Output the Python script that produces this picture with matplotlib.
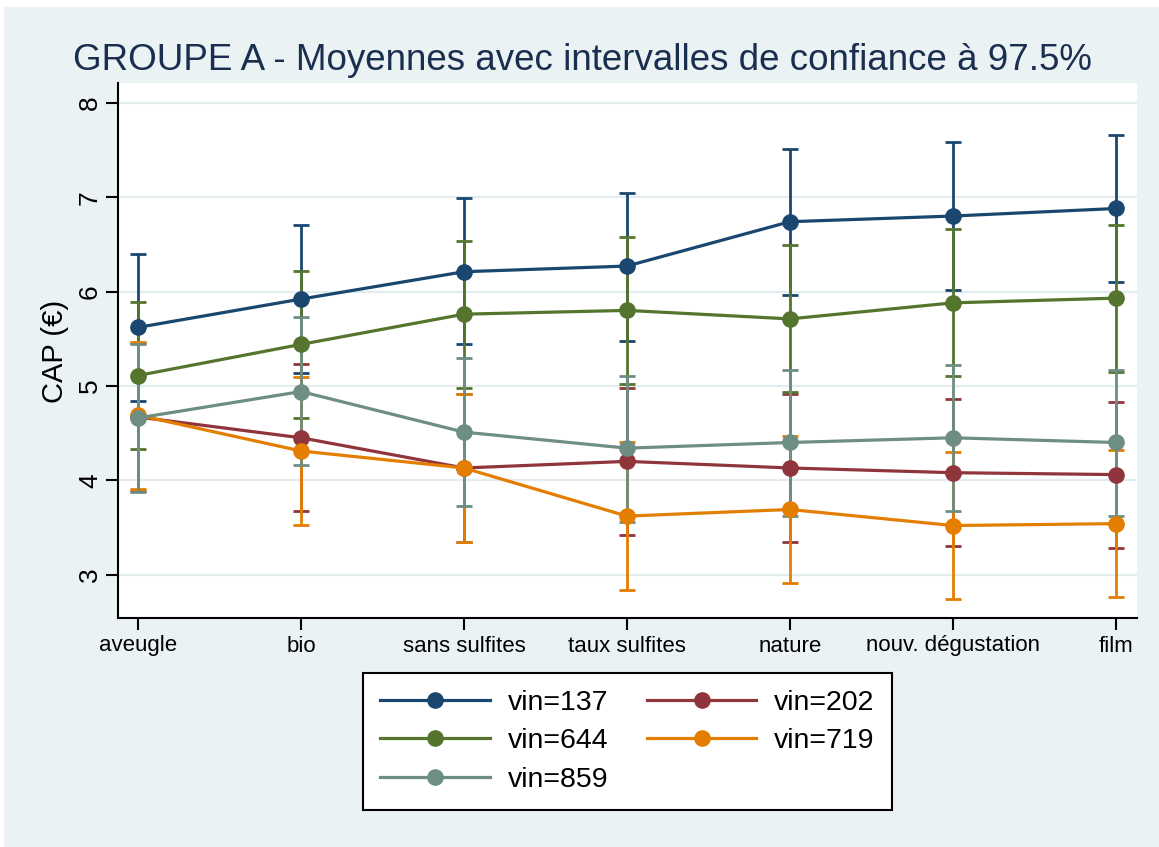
import matplotlib
matplotlib.use("Agg")
import matplotlib.pyplot as plt
from matplotlib.patches import Rectangle

# ---- data ----
categories = ["aveugle", "bio", "sans sulfites", "taux sulfites", "nature",
              "nouv. dégustation", "film"]
series_names = ["vin=137", "vin=202", "vin=644", "vin=719", "vin=859"]

mean_137 = [5.62, 5.92, 6.21, 6.27, 6.74, 6.80, 6.88]
upper_137 = [6.40, 6.70, 6.99, 7.04, 7.51, 7.58, 7.66]
lower_137 = [4.84, 5.14, 5.44, 5.48, 5.96, 6.02, 6.10]

mean_202 = [4.67, 4.45, 4.13, 4.20, 4.13, 4.08, 4.06]
upper_202 = [5.45, 5.23, 4.91, 4.98, 4.91, 4.86, 4.83]
lower_202 = [3.89, 3.67, 3.35, 3.42, 3.35, 3.30, 3.28]

mean_644 = [5.11, 5.44, 5.76, 5.80, 5.71, 5.88, 5.93]
upper_644 = [5.89, 6.22, 6.54, 6.58, 6.49, 6.66, 6.71]
lower_644 = [4.33, 4.66, 4.98, 5.02, 4.93, 5.10, 5.15]

mean_719 = [4.69, 4.31, 4.13, 3.62, 3.69, 3.52, 3.54]
upper_719 = [5.47, 5.09, 4.91, 4.40, 4.47, 4.30, 4.32]
lower_719 = [3.91, 3.53, 3.35, 2.84, 2.91, 2.74, 2.76]

mean_859 = [4.66, 4.94, 4.51, 4.34, 4.40, 4.45, 4.40]
upper_859 = [5.44, 5.73, 5.30, 5.11, 5.17, 5.22, 5.17]
lower_859 = [3.88, 4.16, 3.73, 3.56, 3.62, 3.67, 3.62]

yticks = [3, 4, 5, 6, 7, 8]
title = "GROUPE A - Moyennes avec intervalles de confiance à 97.5%"
ylabel = "CAP (€)"

means = [mean_137, mean_202, mean_644, mean_719, mean_859]
uppers = [upper_137, upper_202, upper_644, upper_719, upper_859]
lowers = [lower_137, lower_202, lower_644, lower_719, lower_859]
colors = ["#1a476f", "#90353b", "#55752f", "#e37e00", "#6e8e84"]

plt.rcParams['font.family'] = ['Liberation Sans', 'DejaVu Sans']

W, H = 1159, 847
fig = plt.figure(figsize=(W / 100, H / 100), dpi=100)
fig.patch.set_facecolor("white")
bg = "#eaf2f3"
fig.patches.append(Rectangle((4 / W, 0), 1 - 4 / W, 1 - 7 / H, transform=fig.transFigure,
                             facecolor=bg, edgecolor="none", zorder=-10))

left, right, top, bottom = 118, 1137, 83, 618
ax = fig.add_axes([left / W, 1 - bottom / H, (right - left) / W, (bottom - top) / H])
ax.set_facecolor("white")

x = list(range(len(categories)))

for i in range(len(series_names)):
    m, u, l = means[i], uppers[i], lowers[i]
    yerr = [[mm - ll for mm, ll in zip(m, l)], [uu - mm for uu, mm in zip(u, m)]]
    ax.errorbar(x, m, yerr=yerr, fmt='none', ecolor=colors[i], elinewidth=2.0,
                capsize=5.8, capthick=2.0, zorder=2 + i * 0.01)

handles = []
for i in range(len(series_names)):
    h, = ax.plot(x, means[i], '-o', color=colors[i], lw=2.3, ms=12,
                 markeredgewidth=0, zorder=3 + i * 0.01, label=series_names[i])
    handles.append(h)

ax.set_xlim(-0.123, 6.13)
ax.set_ylim(2.54, 8.21)
ax.set_yticks(yticks)
ax.set_xticks(x)
ax.set_xticklabels(categories, fontsize=16)
ax.set_yticklabels([str(t) for t in yticks], fontsize=19, rotation=90, va='center')
ax.tick_params(axis='both', direction='out', length=8.6, width=1.5, color='black')
ax.tick_params(axis='x', pad=4)
ax.tick_params(axis='y', pad=3)

ax.grid(axis='y', color='#e3ecee', lw=1.6, zorder=0)
ax.set_axisbelow(True)
for s in ['top', 'right']:
    ax.spines[s].set_visible(False)
for s in ['left', 'bottom']:
    ax.spines[s].set_color('black')
    ax.spines[s].set_linewidth(1.5)

fig.text(582 / W, 1 - 60 / H, title, ha='center', va='center', fontsize=26.5,
         color='#1a2f4f')
fig.text(55 / W, 1 - 351 / H, ylabel, ha='center', va='center', rotation=90,
         fontsize=21)

order = [0, 2, 4, 1, 3]
leg = fig.legend([handles[k] for k in order], [series_names[k] for k in order],
                 ncol=2, loc='upper center', bbox_to_anchor=(627.5 / W, 1 - 673 / H),
                 fontsize=20.5, frameon=True, fancybox=False, handlelength=3.85,
                 handletextpad=0.62, columnspacing=1.35, labelspacing=0.43,
                 borderpad=0.6, borderaxespad=0)
fr = leg.get_frame()
fr.set_edgecolor('black')
fr.set_linewidth(1.5)
fr.set_facecolor('white')
fr.set_alpha(1)

fig.savefig("out.png", dpi=100, facecolor=fig.get_facecolor())
